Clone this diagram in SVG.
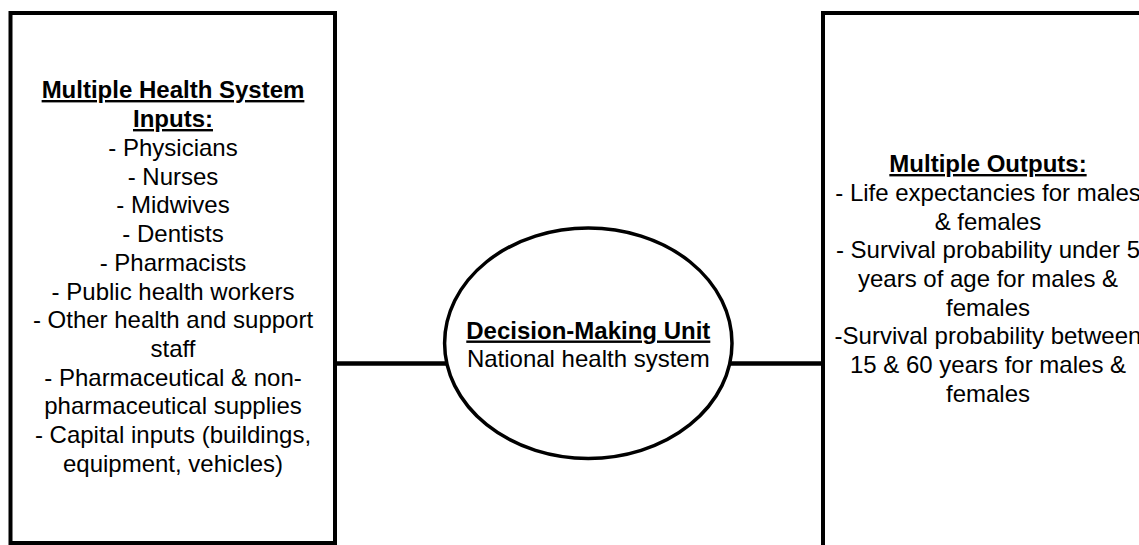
<svg xmlns="http://www.w3.org/2000/svg" width="1139" height="545" viewBox="0 0 1139 545">
<style>
.box{fill:#fff;stroke:#000;stroke-width:4}
.ell{fill:#fff;stroke:#000;stroke-width:3.5}
.conn{stroke:#000;stroke-width:4.5;fill:none}
text{font-family:"Liberation Sans",Arial,sans-serif;font-size:24px;fill:#000;text-anchor:middle}
.h{font-weight:bold;text-decoration:underline}
</style>
<rect width="1139" height="545" fill="#fff"/>
<g id="connectors">
<line class="conn" x1="335" y1="363.5" x2="446" y2="363.5"/>
<line class="conn" x1="731" y1="363.5" x2="823" y2="363.5"/>
</g>
<g id="inputs">
<rect class="box" x="10.5" y="13" width="324.5" height="530"/>
<text x="173" y="98"><tspan class="h">Multiple Health System</tspan></text>
<text x="173" y="127"><tspan class="h">Inputs:</tspan></text>
<text x="173" y="156">- Physicians</text>
<text x="173" y="184.7">- Nurses</text>
<text x="173" y="213.4">- Midwives</text>
<text x="173" y="242.1">- Dentists</text>
<text x="173" y="270.8">- Pharmacists</text>
<text x="173" y="299.5">- Public health workers</text>
<text x="173" y="328.2">- Other health and support</text>
<text x="173" y="356.9">staff</text>
<text x="173" y="385.6">- Pharmaceutical &amp; non-</text>
<text x="173" y="414.3">pharmaceutical supplies</text>
<text x="173" y="443">- Capital inputs (buildings,</text>
<text x="173" y="471.7">equipment, vehicles)</text>
</g>
<g id="dmu">
<ellipse class="ell" cx="588.3" cy="343.2" rx="143.7" ry="115.2"/>
<text x="588.3" y="338.5"><tspan class="h">Decision-Making Unit</tspan></text>
<text x="588.3" y="367.3">National health system</text>
</g>
<g id="outputs">
<rect class="box" x="823" y="13" width="400" height="600"/>
<text x="988" y="172"><tspan class="h">Multiple Outputs:</tspan></text>
<text x="988" y="200.8">- Life expectancies for males</text>
<text x="988" y="229.5">&amp; females</text>
<text x="988" y="258.2">- Survival probability under 5</text>
<text x="988" y="286.9">years of age for males &amp;</text>
<text x="988" y="315.6">females</text>
<text x="988" y="344.3">-Survival probability between</text>
<text x="988" y="373">15 &amp; 60 years for males &amp;</text>
<text x="988" y="401.7">females</text>
</g>
</svg>
